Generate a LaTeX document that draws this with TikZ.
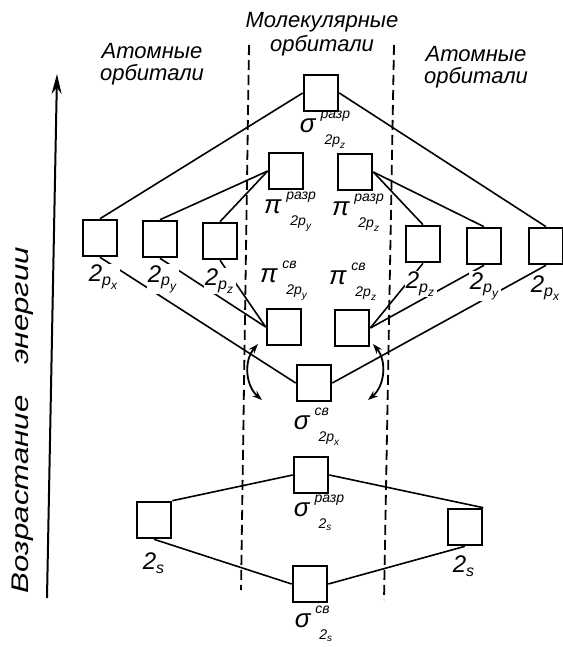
\documentclass[tikz,border=0pt]{standalone}
\usepackage{amsmath}
\usepackage{fontspec}
\setmainfont{Liberation Sans}
\usetikzlibrary{arrows.meta}
\newcommand{\tx}[1]{\text{\itshape #1}}
\newcommand{\mostack}[3]{{\fontsize{13}{13}\selectfont #1}\hspace{2.5pt}\raisebox{-6pt}{\fontsize{7}{7}\selectfont\begin{tabular}[b]{@{}l@{}}#2\\[6pt]\hspace{2pt}#3\end{tabular}}}
\newcommand{\morb}[4]{\mostack{#1}{#2}{$\tx{2#3}_{\tx{#4}}$}}
\newcommand{\sorb}[2]{\mostack{#1}{#2}{$\tx{2}_{\tx{s}}$}}
\newcommand{\aorb}[1]{$\tx{2}_{\tx{p}_{\tx{#1}}}$}
\begin{document}
\begin{tikzpicture}[x=0.5pt,y=-0.5pt,
  orb/.style={draw,line width=1.3pt,minimum width=17pt,minimum height=18pt,inner sep=0pt},
  conn/.style={line width=0.8pt},
  sepline/.style={line width=0.9pt,dash pattern=on 5pt off 2.5pt},
  lbl/.style={font=\fontsize{12}{14}\selectfont\itshape,inner sep=0.5pt},
  wlbl/.style={lbl,fill=white},
  head/.style={font=\fontsize{11}{11}\selectfont\itshape,align=center,inner sep=0pt},
  twoarr/.style={line width=0.9pt,{Stealth[length=5pt,width=3.5pt]}-{Stealth[length=5pt,width=3.5pt]}}
]
\useasboundingbox (0,0) rectangle (562,647);

% headers
\node[head] (hmo) at (322,34) {Молекулярные\\[1pt]орбитали};
\node[head] (hl) at (152,64) {Атомные\\орбитали};
\node[head] (hr) at (476,67) {Атомные\\орбитали};

% energy axis
\coordinate (eb) at (47,598);
\coordinate (et) at (57,74);
\draw[line width=1pt,-{Stealth[length=10pt,width=5pt]}] (eb) -- (et);
\node[rotate=90,font=\fontsize{12}{14}\selectfont\itshape] (elab) at (23,420) {\scalebox{1.3}[1]{Возрастание\quad энергии}};

% dashed separators
\coordinate (d1t) at (249,45); \coordinate (d1b) at (241,590);
\coordinate (d2t) at (394,45); \coordinate (d2b) at (384,600);
\draw[sepline] (d1t) -- (d1b);
\draw[sepline] (d2t) -- (d2b);

% molecular orbitals
\node[orb] (sA) at (321,93) {};
\node[orb] (pAy) at (286,171) {};
\node[orb] (pAz) at (355,172) {};
\node[orb] (pBy) at (284,327) {};
\node[orb] (pBz) at (352,328) {};
\node[orb] (sB) at (314,383) {};
\node[orb] (sAs) at (311,475) {};
\node[orb] (sBs) at (310,584) {};

% atomic orbitals
\node[orb] (L1) at (100,238) {};
\node[orb] (L2) at (160,239) {};
\node[orb] (L3) at (220,241) {};
\node[orb] (R3) at (423,244) {};
\node[orb] (R2) at (484,246) {};
\node[orb] (R1) at (546,246) {};
\node[orb] (Ls) at (154,520) {};
\node[orb] (Rs) at (465,527) {};

% connectors
\draw[conn] (sA.west) -- (L1.north);
\draw[conn] (sA.east) -- (R1.north);
\draw[conn] (pAy.west) -- (L2.north);
\draw[conn] (pAy.west) -- (L3.north);
\draw[conn] (pAz.east) -- (R3.north);
\draw[conn] (pAz.east) -- (R2.north);
\draw[conn] (L1.south) -- (sB.west);
\draw[conn] (L2.south) -- (pBy.west);
\draw[conn] (L3.south) -- (pBy.west);
\draw[conn] (R3.south) -- (pBz.east);
\draw[conn] (R2.south) -- (pBz.east);
\draw[conn] (R1.south) -- (sB.east);
\draw[conn] (Ls.north east) -- (sAs.west);
\draw[conn] (sAs.east) -- (Rs.north east);
\draw[conn] (Ls.south) -- (sBs.west);
\draw[conn] (sBs.east) -- (Rs.south);

% curved arrows
\coordinate (la1) at (258,344); \coordinate (la2) at (262,400);
\coordinate (ra1) at (373,344); \coordinate (ra2) at (368,400);
\draw[twoarr] (la1) to[bend right=45] (la2);
\draw[twoarr] (ra1) to[bend left=45] (ra2);

% MO labels
\node[lbl] (tsA) at (325,129) {\morb{σ}{разр}{p}{z}};
\node[lbl] (tpAy) at (290,211) {\morb{π}{разр}{p}{y}};
\node[lbl] (tpAz) at (358,212) {\morb{π}{разр}{p}{z}};
\node[lbl] (tpBy) at (284,280) {\morb{π}{св}{p}{y}};
\node[lbl] (tpBz) at (353,281) {\morb{π}{св}{p}{z}};
\node[lbl] (tsB) at (317,426) {\morb{σ}{св}{p}{x}};
\node[lbl] (tsAs) at (319,513) {\sorb{σ}{разр}};
\node[lbl] (tsBs) at (314,624) {\sorb{σ}{св}};

% AO labels
\node[wlbl] (tL1) at (104,277) {\aorb{x}};
\node[wlbl] (tL2) at (163,279) {\aorb{y}};
\node[wlbl] (tL3) at (220,281) {\aorb{z}};
\node[wlbl] (tR3) at (421,284) {\aorb{z}};
\node[wlbl] (tR2) at (485,286) {\aorb{y}};
\node[wlbl] (tR1) at (546,288) {\aorb{x}};
\node[lbl] (tLs) at (154,563) {$\tx{2}_{\tx{s}}$};
\node[lbl] (tRs) at (464,566) {$\tx{2}_{\tx{s}}$};
\end{tikzpicture}
\end{document}
